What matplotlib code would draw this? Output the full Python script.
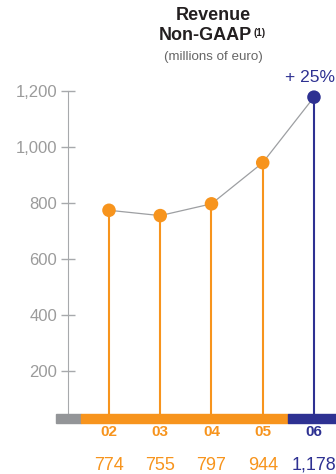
import matplotlib.pyplot as plt
from matplotlib.patches import Rectangle

years = ['02', '03', '04', '05', '06']
revenue = [774, 755, 797, 944, 1178]
value_labels = ['774', '755', '797', '944', '1,178']
yticks = [200, 400, 600, 800, 1000, 1200]
ytick_labels = ['200', '400', '600', '800', '1,000', '1,200']

ORANGE = '#F7941D'
NAVY = '#2E3192'
GREY = '#A7A9AC'
BAR_GREY = '#939598'

plt.rcParams['font.family'] = ['Liberation Sans', 'DejaVu Sans']

fig = plt.figure(figsize=(3.36, 4.74), dpi=100)
ax = fig.add_axes([68 / 336, 47 / 474, 268 / 336, 336 / 474])

x = list(range(len(years)))
colors = [ORANGE] * 4 + [NAVY]

# connecting line
ax.plot(x, revenue, color='#9D9FA2', lw=0.9, zorder=2, clip_on=False)

# stems + dots
bar_top = 46
for xi, v, c in zip(x, revenue, colors):
    ax.vlines(xi, bar_top, v, color=c, lw=1.5, zorder=1, clip_on=False)
ax.scatter(x, revenue, s=95, color=colors, zorder=3, clip_on=False, linewidths=0)

# bottom strip
bar_h = 32
ax.add_patch(Rectangle((-1.034, 14), 1.034 - 0.546, bar_h, color=BAR_GREY, clip_on=False, zorder=4))
ax.add_patch(Rectangle((-0.546, 14), 3.49 + 0.546, bar_h, color=ORANGE, clip_on=False, zorder=4))
ax.add_patch(Rectangle((3.49, 14), 1.0, bar_h, color=NAVY, clip_on=False, zorder=4))

for xi, yr, lab, c in zip(x, years, value_labels, colors):
    ax.text(xi, -18, yr, color=c, fontsize=11, fontweight='bold', ha='center', va='center', clip_on=False)
    ax.text(xi, -136, lab, color=c, fontsize=13, ha='center', va='center', clip_on=False)

ax.set_xlim(-0.8, 4.43)
ax.set_ylim(0, 1200)
ax.set_yticks(yticks)
ax.set_yticklabels(ytick_labels)
ax.set_xticks([])
ax.tick_params(axis='y', direction='inout', length=9.5, width=1, color=GREY,
               labelcolor='#9B9B9B', labelsize=12, pad=3)
for s in ['top', 'right', 'bottom']:
    ax.spines[s].set_visible(False)
ax.spines['left'].set_color(GREY)
ax.spines['left'].set_bounds(bar_top, 1200)
ax.patch.set_alpha(0)

# growth label, kept just inside the right edge
fig.text(335 / 336, 1 - 77 / 474, '+ 25%', color=NAVY, fontsize=12.5, ha='right', va='center')

fig.text(213 / 336, 1 - 15 / 474, 'Revenue', fontsize=13, fontweight='bold', color='#231F20',
         ha='center', va='center')
fig.text(252 / 336, 1 - 36 / 474, 'Non-GAAP', fontsize=13, fontweight='bold', color='#231F20',
         ha='right', va='center')
fig.text(253 / 336, 1 - 33 / 474, '(1)', fontsize=7, fontweight='bold', color='#231F20',
         ha='left', va='center')
fig.text(213 / 336, 1 - 57 / 474, '(millions of euro)', fontsize=9.6, color='#666666',
         ha='center', va='center')

fig.savefig('out.png', dpi=100)
